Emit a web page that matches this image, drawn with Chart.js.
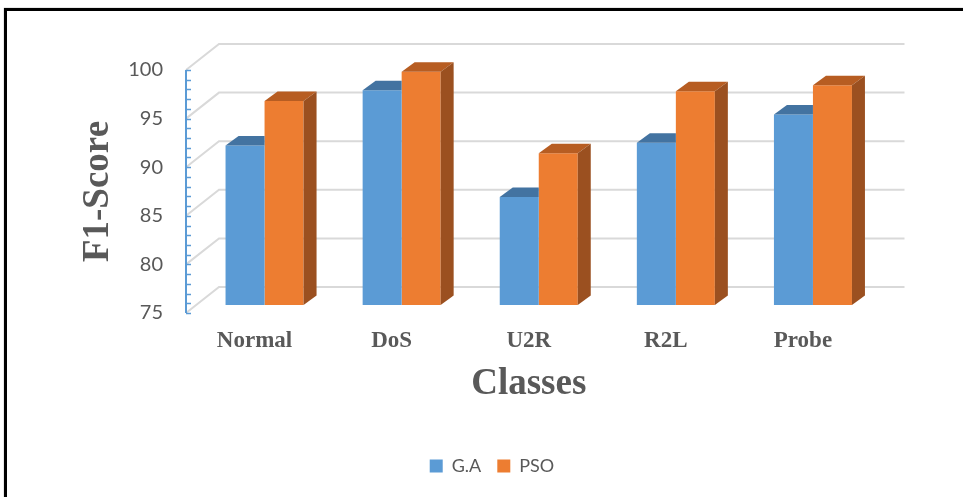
<!DOCTYPE html>
<html lang="es">
<head>
<meta charset="utf-8">
<title>F1-Score por clase</title>
<script src="https://cdn.jsdelivr.net/npm/chart.js@4.4.1/dist/chart.umd.min.js"></script>
<style>
  html, body { margin: 0; padding: 0; background: #ffffff; overflow: hidden; }
  #lienzo-contenedor { position: relative; width: 963px; height: 497px; }
  #marco {
    position: absolute; left: 4px; top: 8px; width: 1000px; height: 600px;
    border: 3px solid #000; box-shadow: 0 0 1px #777; pointer-events: none;
  }
</style>
</head>
<body>
<div id="lienzo-contenedor">
  <canvas id="canvas-f1" width="963" height="497"></canvas>
  <div id="marco"></div>
</div>
<script>
// Datos del gráfico: F1-Score por clase para cada algoritmo
const clases = ['Normal', 'DoS', 'U2R', 'R2L', 'Probe'];
const valoresGA = [91.4, 97.1, 86.1, 91.7, 94.6];
const valoresPSO = [96.0, 99.0, 90.6, 97.0, 97.6];
const ejeMin = 75;
const ejeMax = 100;
const pasoEje = 5;

const colorTexto = '#595959';
const colorRejilla = '#d9d9d9';
const colorEje = '#5b9bd5';

// Caras de cada serie: frente, tapa y lateral
const coloresCaras = [
  { frente: '#5b9bd5', tapa: '#4373a1', lado: '#41719c' },
  { frente: '#ed7d31', tapa: '#b75d22', lado: '#9b5020' }
];

// Perspectiva falsa en 3D (en píxeles)
const fondo = { dx: 33, dy: -26 };     // del plano frontal a la pared del fondo
const planoBarras = { dx: 10, dy: -8 }; // donde se apoyan las barras
const grosor = { dx: 13, dy: -9.5 };    // profundidad de cada barra

function rellenar(ctx, color, puntos) {
  ctx.fillStyle = color;
  ctx.beginPath();
  ctx.moveTo(puntos[0][0], puntos[0][1]);
  for (let k = 1; k < puntos.length; k++) ctx.lineTo(puntos[k][0], puntos[k][1]);
  ctx.closePath();
  ctx.fill();
}

const pluginTresD = {
  id: 'tresD',
  beforeDatasetsDraw(chart) {
    const { ctx, chartArea, scales } = chart;
    const y = scales.y;

    // Pared del fondo y pared lateral con la rejilla
    ctx.save();
    ctx.strokeStyle = colorRejilla;
    ctx.lineWidth = 2;
    for (let v = ejeMin; v <= ejeMax; v += pasoEje) {
      const py = y.getPixelForValue(v);
      ctx.beginPath();
      ctx.moveTo(chartArea.left, py);
      ctx.lineTo(chartArea.left + fondo.dx, py + fondo.dy);
      ctx.lineTo(chartArea.right + fondo.dx, py + fondo.dy);
      ctx.stroke();
    }
    ctx.restore();

    // Eje vertical frontal con marcas menores
    ctx.save();
    ctx.strokeStyle = colorEje;
    ctx.lineWidth = 2;
    const x0 = chartArea.left;
    ctx.beginPath();
    ctx.moveTo(x0, y.getPixelForValue(ejeMax));
    ctx.lineTo(x0, y.getPixelForValue(ejeMin));
    ctx.stroke();
    ctx.lineWidth = 1.5;
    for (let v = ejeMin; v <= ejeMax; v++) {
      const py = Math.round(y.getPixelForValue(v)) + 0.5;
      ctx.beginPath();
      ctx.moveTo(x0, py);
      ctx.lineTo(x0 + 5, py);
      ctx.stroke();
    }
    ctx.restore();

    // Las barras se dibujan en un plano desplazado hacia el fondo
    ctx.save();
    ctx.translate(planoBarras.dx, planoBarras.dy);
  },
  afterDatasetDraw(chart, args) {
    // Chart.js pinta la última serie primero; la serie 0 queda delante
    const { ctx } = chart;
    const caras = coloresCaras[args.index];
    const barras = args.meta.data;
    const vecina = args.index + 1 < chart.data.datasets.length ? chart.getDatasetMeta(args.index + 1).data : null;
    for (let i = 0; i < barras.length; i++) {
      const b = barras[i].getProps(['x', 'y', 'base', 'width'], true);
      const izq = b.x - b.width / 2;
      const der = b.x + b.width / 2;
      const v = vecina ? vecina[i].getProps(['y'], true) : null;
      if (v && v.y <= b.y) {
        // la barra de la derecha es más alta: sólo asoma parte de la tapa
        rellenar(ctx, caras.tapa, [
          [izq, b.y], [der, b.y], [der, b.y + grosor.dy], [izq + grosor.dx, b.y + grosor.dy]
        ]);
        continue;
      }
      rellenar(ctx, caras.tapa, [
        [izq, b.y], [der, b.y], [der + grosor.dx, b.y + grosor.dy], [izq + grosor.dx, b.y + grosor.dy]
      ]);
      rellenar(ctx, caras.lado, [
        [der, b.y], [der + grosor.dx, b.y + grosor.dy], [der + grosor.dx, b.base + grosor.dy], [der, b.base]
      ]);
    }
  },
  afterDatasetsDraw(chart) {
    chart.ctx.restore();
  }
};

const el = document.getElementById('canvas-f1');
new Chart(el, {
  type: 'bar',
  data: {
    labels: clases,
    datasets: [
      { label: 'G.A', data: valoresGA, backgroundColor: coloresCaras[0].frente, borderWidth: 0, base: ejeMin, clip: false },
      { label: 'PSO', data: valoresPSO, backgroundColor: coloresCaras[1].frente, borderWidth: 0, base: ejeMin, clip: false }
    ]
  },
  options: {
    responsive: false,
    animation: false,
    events: [],
    layout: { padding: { left: 21, right: 0, top: 70, bottom: 12 } },
    datasets: { bar: { barPercentage: 1, categoryPercentage: 0.569 } },
    plugins: {
      tooltip: { enabled: false },
      legend: {
        position: 'bottom',
        labels: {
          boxWidth: 13, boxHeight: 13, padding: 16, color: colorTexto,
          font: { family: 'Lato', size: 18 }
        }
      }
    },
    scales: {
      x: {
        grid: { display: false, drawTicks: false, tickLength: 0 },
        border: { display: false },
        ticks: { color: colorTexto, padding: 14, font: { family: 'Liberation Serif', size: 23, weight: 'bold' } },
        title: {
          display: true, text: 'Classes', color: colorTexto,
          padding: { top: 0, bottom: 34 },
          font: { family: 'Liberation Serif', size: 37, weight: 'bold' }
        },
        afterFit(s) { s.height = 128; }
      },
      y: {
        min: ejeMin, max: ejeMax,
        grid: { display: false, drawTicks: false, tickLength: 0 },
        border: { display: false },
        ticks: { stepSize: pasoEje, color: colorTexto, padding: 23, font: { family: 'Lato', size: 20 } },
        title: {
          display: true, text: 'F1-Score', color: colorTexto,
          padding: { top: 55, bottom: 0 },
          font: { family: 'Liberation Serif', size: 37, weight: 'bold' }
        },
        afterFit(s) { s.width = 165; }
      },
      // Eje auxiliar sin dibujo que reserva el margen derecho
      margenDerecho: {
        type: 'linear', position: 'right', display: true,
        grid: { display: false, drawTicks: false },
        border: { display: false },
        ticks: { display: false },
        afterFit(s) { s.width = 91.5; }
      }
    }
  },
  plugins: [pluginTresD]
});
</script>
</body>
</html>
